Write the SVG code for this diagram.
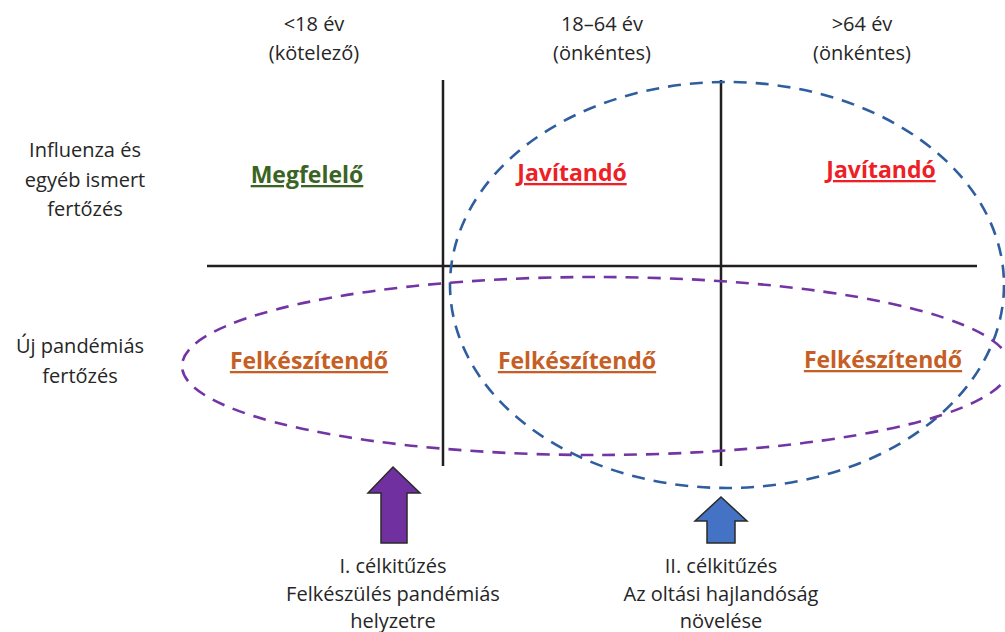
<svg xmlns="http://www.w3.org/2000/svg" width="1005" height="632" viewBox="0 0 1005 632">
<style>
.t{font-family:"Open Sans","Liberation Sans",sans-serif;font-size:20px;fill:#262626;text-anchor:middle}
.b{font-family:"Open Sans","Liberation Sans",sans-serif;font-size:23px;font-weight:bold;text-anchor:middle;text-decoration:underline}
.g{fill:#3b6424}.r{fill:#ee2026}.o{fill:#c65f26}
.ln{stroke:#231f20;stroke-width:2.5;fill:none}
.de{fill:none;stroke-width:2.6;stroke-dasharray:13 9}
</style>
<rect width="1005" height="632" fill="#fff"/>
<g id="headers">
<text class="t" x="314" y="31">&lt;18 év</text>
<text class="t" x="314" y="60">(kötelező)</text>
<text class="t" x="602" y="31">18–64 év</text>
<text class="t" x="602" y="60">(önkéntes)</text>
<text class="t" x="862" y="31">&gt;64 év</text>
<text class="t" x="862" y="60">(önkéntes)</text>
</g>
<g id="rowlabels">
<text class="t" x="85" y="157">Influenza és</text>
<text class="t" x="85" y="187">egyéb ismert</text>
<text class="t" x="85" y="216">fertőzés</text>
<text class="t" x="80" y="353">Új pandémiás</text>
<text class="t" x="80" y="383">fertőzés</text>
</g>
<g id="grid">
<line class="ln" x1="443" y1="80" x2="443" y2="466"/>
<line class="ln" x1="721" y1="80" x2="721" y2="466"/>
<line class="ln" x1="207" y1="266" x2="977" y2="266"/>
</g>
<g id="cells">
<text class="b g" x="307" y="183">Megfelelő</text>
<text class="b r" x="572" y="181">Javítandó</text>
<text class="b r" x="881" y="178">Javítandó</text>
<text class="b o" x="309" y="369">Felkészítendő</text>
<text class="b o" x="577" y="369">Felkészítendő</text>
<text class="b o" x="883" y="368">Felkészítendő</text>
</g>
<g id="ellipses">
<ellipse class="de" cx="727" cy="285" rx="277" ry="203" stroke="#2f5e9e"/>
<ellipse class="de" cx="596" cy="366" rx="414" ry="89" stroke="#7335a3"/>
</g>
<g id="arrows">
<polygon points="393,467 420,493 407,493 407,543 381,543 381,493 368,493" fill="#7030a0" stroke="#2a2a2a" stroke-width="1.5"/>
<polygon points="721,497 747,521 735,521 735,543 707,543 707,521 695,521" fill="#4472c4" stroke="#2a2a2a" stroke-width="1.5"/>
</g>
<g id="goals">
<text class="t" x="393" y="573">I. célkitűzés</text>
<text class="t" x="393" y="601">Felkészülés pandémiás</text>
<text class="t" x="393" y="628">helyzetre</text>
<text class="t" x="721" y="573">II. célkitűzés</text>
<text class="t" x="721" y="601">Az oltási hajlandóság</text>
<text class="t" x="721" y="628">növelése</text>
</g>
</svg>
